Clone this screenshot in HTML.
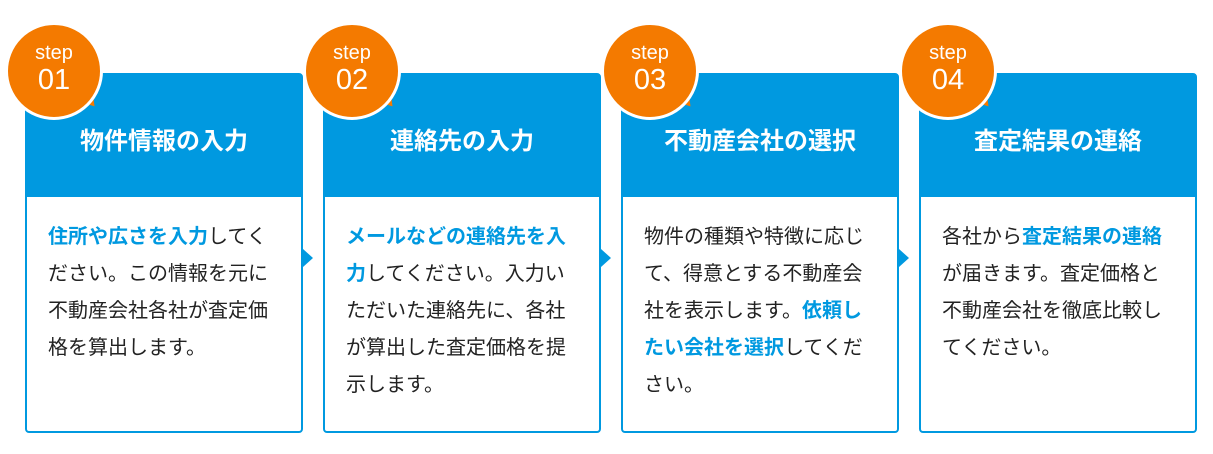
<!DOCTYPE html>
<html><head><meta charset="utf-8"><style>
body{margin:0;width:1213px;height:454px;background:#fff;position:relative;overflow:hidden;font-family:"Liberation Sans","Noto Sans CJK JP",sans-serif;}
.card{position:absolute;top:73px;width:274px;height:356px;border:2px solid #0099e0;border-radius:4px;background:#fff;}
.hd{height:122px;background:#0099e0;color:#fff;font-weight:bold;font-size:24px;text-align:center;line-height:134px;}
.bd{padding:22px 0 0 21px;font-size:20px;line-height:37px;color:#222;white-space:nowrap;}
.b{color:#0099e0;font-weight:bold;}
.arr{position:absolute;top:249px;width:0;height:0;border-top:9px solid transparent;border-bottom:9px solid transparent;border-left:10px solid #0099e0;}
.badge{position:absolute;top:22px;width:92px;height:92px;border-radius:50%;background:#f47a00;border:3px solid #fff;color:#fff;text-align:center;}
.badge .s{font-size:20px;line-height:20px;margin-top:18px;}
.badge .n{font-size:29px;line-height:34px;}
.tail{position:absolute;width:0;height:0;border-left:9px solid transparent;border-right:9px solid transparent;border-top:14px solid #f47a00;transform:rotate(-40deg);}
</style></head><body>

<div class="card" style="left:25px"><div class="hd">物件情報の入力</div><div class="bd"><span class="b">住所や広さを入力</span>してく<br>ださい。この情報を元に<br>不動産会社各社が査定価<br>格を算出します。</div></div>
<div class="card" style="left:323px"><div class="hd">連絡先の入力</div><div class="bd"><span class="b">メールなどの連絡先を入<br>力</span>してください。入力い<br>ただいた連絡先に、各社<br>が算出した査定価格を提<br>示します。</div></div>
<div class="card" style="left:621px"><div class="hd">不動産会社の選択</div><div class="bd">物件の種類や特徴に応じ<br>て、得意とする不動産会<br>社を表示します。<span class="b">依頼し<br>たい会社を選択</span>してくだ<br>さい。</div></div>
<div class="card" style="left:919px"><div class="hd">査定結果の連絡</div><div class="bd">各社から<span class="b">査定結果の連絡</span><br>が届きます。査定価格と<br>不動産会社を徹底比較し<br>てください。</div></div>

<div class="arr" style="left:303px"></div>
<div class="arr" style="left:601px"></div>
<div class="arr" style="left:899px"></div>

<div class="tail" style="left:81px;top:94px"></div>
<div class="tail" style="left:379px;top:94px"></div>
<div class="tail" style="left:677px;top:94px"></div>
<div class="tail" style="left:975px;top:94px"></div>
<div class="badge" style="left:5px"><div class="s">step</div><div class="n">01</div></div>
<div class="badge" style="left:303px"><div class="s">step</div><div class="n">02</div></div>
<div class="badge" style="left:601px"><div class="s">step</div><div class="n">03</div></div>
<div class="badge" style="left:899px"><div class="s">step</div><div class="n">04</div></div>
</body></html>
